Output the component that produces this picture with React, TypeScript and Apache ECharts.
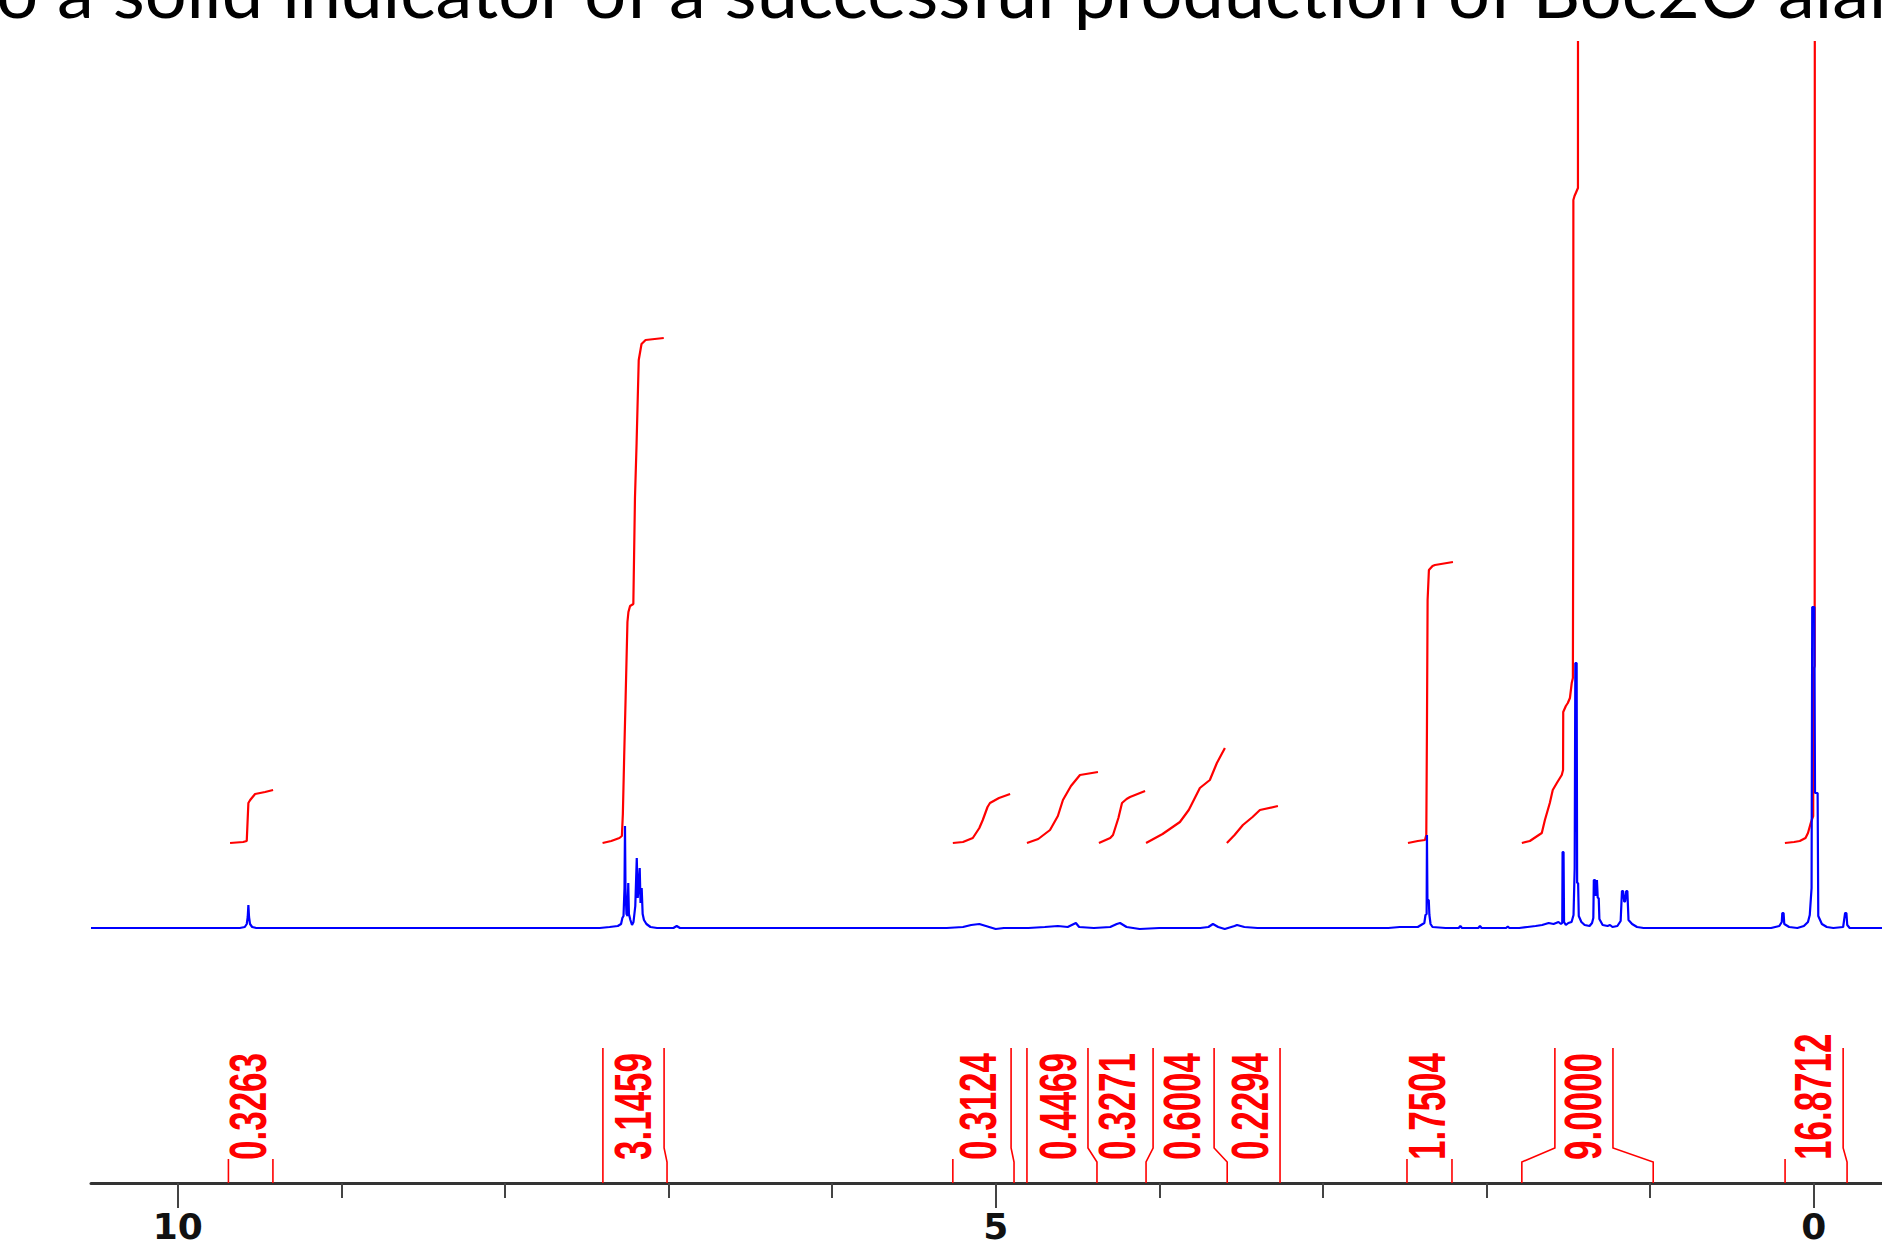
import React, { useEffect, useRef } from "react";
import * as echarts from "echarts";

// ---------- data ----------
const TITLE_TEXT = "o a solid indicator of a successful production of Boc2O alan";

const xMinorTicks = [0, 1, 2, 3, 4, 5, 6, 7, 8, 9, 10];
const xMajorTicks = [0, 5, 10];

// 1H spectrum (ppm, intensity)
const spectrum: [number, number][] = [
  [10.53, 0], [9.62, 0], [9.59, 1], [9.578, 4], [9.572, 11], [9.568, 23], [9.564, 11], [9.558, 4], [9.545, 1], [9.52, 0],
  [8.9, 0], [7.42, 0], [7.36, 1], [7.31, 2], [7.29, 4], [7.282, 10], [7.275, 12], [7.269, 40], [7.266, 102], [7.263, 40],
  [7.257, 14], [7.25, 12], [7.246, 45], [7.242, 14], [7.233, 8], [7.223, 3], [7.214, 6], [7.203, 22], [7.194, 70],
  [7.188, 30], [7.181, 45], [7.176, 60], [7.171, 25], [7.164, 40], [7.158, 14], [7.15, 8], [7.135, 4], [7.11, 1],
  [7.07, 0], [6.97, 0], [6.95, 2], [6.93, 0],
  [5.3, 0], [5.2, 1], [5.15, 3], [5.1, 4], [5.06, 2], [5.0, -1], [4.95, 0], [4.8, 0], [4.7, 1], [4.62, 2], [4.56, 1],
  [4.51, 5], [4.49, 1], [4.4, 0], [4.3, 1], [4.26, 4], [4.24, 5], [4.2, 1], [4.12, -1], [4.0, 0], [3.75, 0], [3.7, 1],
  [3.672, 4], [3.64, 1], [3.6, -1], [3.54, 2], [3.525, 3], [3.48, 1], [3.4, 0],
  [2.6, 0], [2.53, 1], [2.42, 1], [2.38, 5], [2.373, 13], [2.366, 14], [2.364, 93], [2.361, 28], [2.353, 28], [2.349, 13],
  [2.342, 4], [2.33, 1], [2.25, 0], [2.17, 0], [2.16, 2], [2.15, 0], [2.05, 0], [2.04, 2], [2.03, 0], [1.88, 0], [1.87, 1.5],
  [1.86, 0], [1.8, 0], [1.75, 1], [1.7, 2], [1.66, 3], [1.62, 5], [1.59, 4], [1.56, 6], [1.545, 4], [1.537, 5],
  [1.535, 76], [1.529, 76], [1.526, 6], [1.515, 3], [1.5, 5], [1.48, 6], [1.468, 13], [1.461, 60], [1.457, 265],
  [1.449, 265], [1.446, 45], [1.44, 45], [1.436, 12], [1.42, 6], [1.4, 3], [1.37, 2], [1.355, 5], [1.347, 10],
  [1.344, 48], [1.336, 48], [1.332, 32], [1.325, 48], [1.32, 30], [1.314, 30], [1.31, 9], [1.29, 3], [1.26, 2],
  [1.245, 3], [1.23, 1], [1.2, 2], [1.18, 7], [1.172, 37], [1.165, 37], [1.158, 26], [1.152, 27], [1.146, 37],
  [1.139, 37], [1.132, 8], [1.11, 4], [1.08, 1], [1.04, 0],
  [0.26, 0], [0.21, 2], [0.195, 6], [0.192, 15], [0.184, 15], [0.18, 4], [0.15, 1], [0.1, 0], [0.06, 2], [0.035, 6],
  [0.024, 13], [0.013, 40], [0.009, 321], [-0.004, 321], [-0.008, 135], [-0.024, 135], [-0.028, 12], [-0.05, 4],
  [-0.08, 1], [-0.12, 0], [-0.18, 1], [-0.192, 15], [-0.2, 15], [-0.205, 3], [-0.22, 0], [-0.42, 0],
];

// integral curves (ppm, cumulative integral, drawn offset above the baseline)
const integral1: [number, number][] = [
  [9.68, 85], [9.6, 86], [9.578, 87], [9.572, 110], [9.568, 125], [9.557, 128], [9.527, 134], [9.466, 136], [9.417, 138],
];
const integral2: [number, number][] = [
  [7.403, 85], [7.35, 87], [7.3, 90], [7.285, 92], [7.279, 114], [7.271, 171], [7.262, 231], [7.251, 306], [7.245, 316],
  [7.235, 322], [7.215, 324], [7.205, 430], [7.195, 485], [7.182, 568], [7.165, 584], [7.14, 588], [7.029, 590],
];
const integral3: [number, number][] = [
  [5.262, 85], [5.2, 86], [5.14, 90], [5.1, 100], [5.079, 108], [5.05, 121], [5.035, 125], [4.98, 130], [4.912, 134],
];
const integral4: [number, number][] = [
  [4.809, 85], [4.74, 89], [4.668, 98], [4.62, 112], [4.589, 128], [4.54, 142], [4.485, 153], [4.375, 156],
];
const integral5: [number, number][] = [
  [4.369, 85], [4.3, 90], [4.283, 93], [4.25, 110], [4.228, 125], [4.2, 129], [4.179, 131], [4.087, 137],
];
const integral6: [number, number][] = [
  [4.081, 85], [3.98, 94], [3.874, 106], [3.82, 118], [3.752, 140], [3.691, 148], [3.648, 165], [3.599, 180],
];
const integral7: [number, number][] = [
  [3.587, 85], [3.54, 93], [3.489, 103], [3.43, 111], [3.385, 118], [3.275, 122],
];
const integral8: [number, number][] = [
  [2.48, 85], [2.42, 87], [2.376, 88], [2.368, 93], [2.364, 200], [2.36, 328], [2.352, 358], [2.33, 362], [2.315, 363],
  [2.205, 366],
];
const integral9: [number, number][] = [
  [1.784, 85], [1.735, 87], [1.662, 95], [1.643, 108], [1.613, 125], [1.595, 138], [1.57, 145], [1.54, 153],
  [1.532, 158], [1.531, 216], [1.515, 222], [1.503, 225], [1.49, 230], [1.479, 245], [1.472, 250], [1.47, 400],
  [1.469, 728], [1.462, 732], [1.441, 740], [1.44, 1300], [1.43, 1360], [1.34, 1430], [1.15, 1500], [0.981, 1516],
];
const integral10: [number, number][] = [
  [0.176, 85], [0.12, 86], [0.085, 87], [0.05, 90], [0.035, 95], [0.018, 105], [0.012, 108], [0.003, 112],
  [0.002, 258], [-0.006, 262], [-0.008, 2000], [-0.03, 2600], [-0.22, 2768],
];
const integralCurves = [
  integral1, integral2, integral3, integral4, integral5, integral6, integral7, integral8, integral9, integral10,
];

const integralLabels = ["0.3263", "3.1459", "0.3124", "0.4469", "0.3271", "0.6004", "0.2294", "1.7504", "9.0000", "16.8712"];
const integralLabelPpm = [9.571, 7.216, 5.108, 4.619, 4.258, 3.861, 3.446, 2.364, 1.41, 0.004];

// integration region boundaries (ppm at the axis, ppm at the upper end; null = short marker)
const bracketBottomPpm = [9.69, 9.418, 7.401, 7.009, 5.262, 4.888, 4.809, 4.381, 4.081, 3.585, 3.262, 2.486, 2.211, 1.784, 0.981, 0.175, -0.204];
const bracketTopPpm: (number | null)[] = [null, null, 7.401, 7.027, null, 4.906, 4.809, 4.436, 4.038, 3.665, 3.262, null, null, 1.582, 1.227, null, -0.18];

// ---------- layout / style ----------
const W = 1882;
const H = 1250;
const RED = "#ff0000";
const BLUE = "#0000ff";
const TITLE_FONT = '400 72px Lato';

export default function App() {
  const ref = useRef<HTMLDivElement>(null);

  useEffect(() => {
    if (!ref.current) return;
    const chart = echarts.init(ref.current, undefined, { renderer: "svg" });

    // fit the title text between its anchors
    const ctx = document.createElement("canvas").getContext("2d")!;
    ctx.font = TITLE_FONT;
    const wPrefix = ctx.measureText("o ").width;
    const wToB = ctx.measureText("o a solid indicator of a successful production of ").width;
    const sx = (1537 - 57) / (wToB - wPrefix);
    const x0 = 57 - wPrefix * sx;

    const SHORT_H = 24;
    const BREAK1 = 21;
    const BREAK2 = 35;
    const TALL_H = 135;

    const series: any[] = [];
    integralCurves.forEach((c, i) => {
      series.push({
        type: "line",
        name: "integral" + i,
        data: c,
        symbol: "none",
        clip: true,
        z: 2,
        lineStyle: { color: RED, width: 2.2 },
        silent: true,
      });
    });
    series.push({
      type: "line",
      name: "spectrum",
      data: spectrum,
      symbol: "none",
      clip: true,
      z: 3,
      lineStyle: { color: BLUE, width: 2.2 },
      silent: true,
    });
    series.push({
      type: "custom",
      name: "brackets",
      coordinateSystem: "cartesian2d",
      data: bracketBottomPpm.map((p) => [p, 0]),
      z: 4,
      silent: true,
      renderItem: (params: any, api: any) => {
        const i = params.dataIndex;
        const cs = params.coordSys;
        const axisY = cs.y + cs.height;
        const xb = api.coord([bracketBottomPpm[i], 0])[0];
        const top = bracketTopPpm[i];
        if (top === null) {
          return {
            type: "line",
            shape: { x1: xb, y1: axisY, x2: xb, y2: axisY - SHORT_H },
            style: { stroke: RED, lineWidth: 1.6 },
          };
        }
        const xt = api.coord([top, 0])[0];
        return {
          type: "polyline",
          shape: {
            points: [
              [xb, axisY],
              [xb, axisY - BREAK1],
              [xt, axisY - BREAK2],
              [xt, axisY - TALL_H],
            ],
          },
          style: { stroke: RED, lineWidth: 1.6, fill: null },
        };
      },
    });
    series.push({
      type: "custom",
      name: "integralValues",
      coordinateSystem: "cartesian2d",
      data: integralLabelPpm.map((p) => [p, 0]),
      z: 5,
      silent: true,
      renderItem: (params: any, api: any) => {
        const i = params.dataIndex;
        const cs = params.coordSys;
        const axisY = cs.y + cs.height;
        const x = api.coord([integralLabelPpm[i], 0])[0];
        return {
          type: "text",
          x,
          y: axisY - 23,
          rotation: Math.PI / 2,
          scaleY: 1.46,
          style: {
            text: integralLabels[i],
            fill: RED,
            fontSize: 35,
            fontWeight: "bold",
            fontFamily: '"Liberation Sans", Arial, sans-serif',
            align: "left",
            verticalAlign: "middle",
          },
        };
      },
    });

    const xCommon = {
      type: "value",
      inverse: true,
      min: -0.4175,
      max: 10.53,
      position: "bottom",
      splitLine: { show: false },
    };

    chart.setOption({
      animation: false,
      backgroundColor: "#ffffff",
      grid: { left: 91, right: 0, top: 42, bottom: 67, containLabel: false },
      xAxis: [
        {
          ...xCommon,
          axisLine: { show: true, onZero: false, lineStyle: { color: "#333333", width: 3 } },
          axisTick: { show: true, customValues: xMinorTicks, length: 15, lineStyle: { color: "#444444", width: 2 } },
          axisLabel: { show: false },
        },
        {
          ...xCommon,
          axisLine: { show: false, onZero: false },
          axisTick: { show: true, customValues: xMajorTicks, length: 25, lineStyle: { color: "#444444", width: 2 } },
          axisLabel: {
            show: true,
            customValues: xMajorTicks,
            margin: 30,
            fontSize: 36,
            lineHeight: 26,
            fontWeight: "bold",
            fontFamily: '"DejaVu Sans", sans-serif',
            color: "#111111",
          },
        },
      ],
      yAxis: { type: "value", min: -255, max: 886, show: false },
      graphic: [
        {
          type: "text",
          x: x0,
          y: -10,
          scaleX: sx,
          silent: true,
          style: {
            text: TITLE_TEXT,
            font: TITLE_FONT,
            fill: "#000000",
            align: "left",
            verticalAlign: "middle",
          },
        },
      ],
      series,
    });

    return () => chart.dispose();
  }, []);

  return (
    <div
      ref={ref}
      style={{ position: "fixed", left: 0, top: 0, width: W, height: H, background: "#ffffff" }}
    />
  );
}
